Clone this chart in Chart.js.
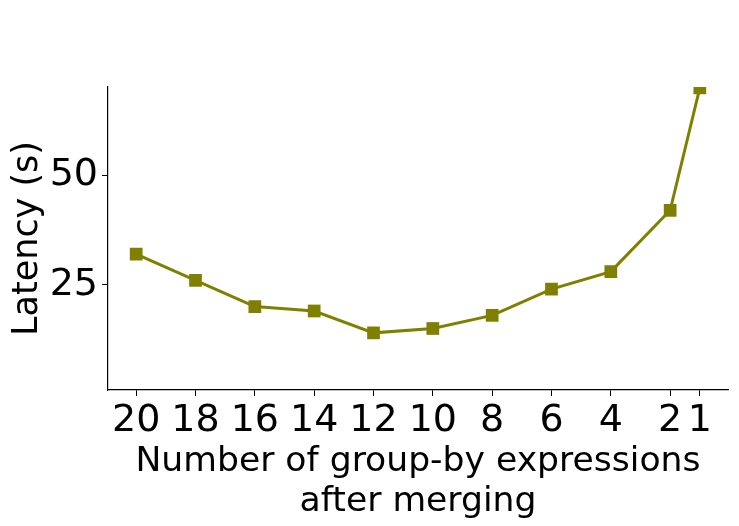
<!DOCTYPE html>
<html>
<head>
<meta charset="utf-8">
<script src="https://cdn.jsdelivr.net/npm/chart.js@4"></script>
<style>
  html, body { margin: 0; padding: 0; background: #fff; }
  #wrap { width: 739px; height: 526px; position: relative; }
</style>
</head>
<body>
<div id="wrap"><canvas id="c" width="739" height="526"></canvas></div>
<script>
const groupByCounts = [20, 18, 16, 14, 12, 10, 8, 6, 4, 2, 1];
const latencySeconds = [32, 26, 20, 19, 14, 15, 18, 24, 28, 42, 70];
const xTickValues = [20, 18, 16, 14, 12, 10, 8, 6, 4, 2, 1];
const yTickValues = [25, 50];

const FONT = "'DejaVu Sans', sans-serif";

new Chart(document.getElementById('c'), {
  type: 'line',
  data: {
    datasets: [{
      data: groupByCounts.map((x, i) => ({ x: x, y: latencySeconds[i] })),
      borderColor: '#808000',
      backgroundColor: '#808000',
      borderWidth: 3,
      pointStyle: 'rect',
      pointRadius: 9,
      pointBorderWidth: 0,
      pointBackgroundColor: '#808000',
      tension: 0
    }]
  },
  options: {
    responsive: false,
    animation: false,
    devicePixelRatio: 1,
    layout: { padding: { top: 87, right: 11, left: 0, bottom: 0 } },
    plugins: { legend: { display: false }, tooltip: { enabled: false } },
    scales: {
      x: {
        type: 'linear',
        reverse: true,
        min: 0.05,
        max: 20.95,
        afterBuildTicks: (s) => { s.ticks = xTickValues.map(v => ({ value: v })); },
        afterFit: (s) => { s.height = 526 - 390; },
        grid: { display: true, drawOnChartArea: false, drawTicks: true, tickLength: 6, tickColor: '#000', tickWidth: 1 },
        border: { display: true, color: '#000', width: 1.2 },
        ticks: {
          autoSkip: false,
          maxRotation: 0,
          color: '#000',
          padding: 2,
          font: { family: FONT, size: 38 },
          callback: (v) => String(v)
        },
        title: {
          display: true,
          text: ['Number of group-by expressions', 'after merging'],
          color: '#000',
          font: { family: FONT, size: 34.6, lineHeight: 1.16 },
          padding: { top: 0, bottom: 4 }
        }
      },
      y: {
        type: 'linear',
        min: 0.94,
        max: 70.2,
        afterBuildTicks: (s) => { s.ticks = yTickValues.map(v => ({ value: v })); },
        afterFit: (s) => { s.width = 108; },
        grid: { display: true, drawOnChartArea: false, drawTicks: true, tickLength: 6, tickColor: '#000', tickWidth: 1 },
        border: { display: true, color: '#000', width: 1.2 },
        ticks: {
          color: '#000',
          padding: 4,
          font: { family: FONT, size: 38 },
          callback: (v) => String(v)
        },
        title: {
          display: true,
          text: 'Latency (s)',
          color: '#000',
          font: { family: FONT, size: 35 },
          padding: { top: 7, bottom: 0 }
        }
      }
    }
  }
});
</script>
</body>
</html>
